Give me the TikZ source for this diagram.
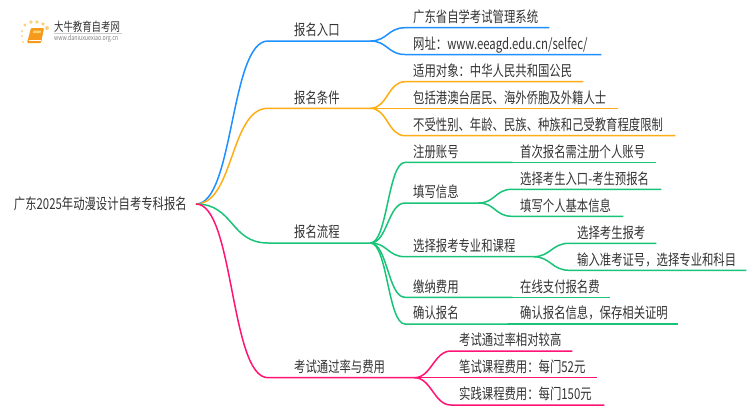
\documentclass[tikz,border=0pt]{standalone}
\usepackage{fontspec}
\setmainfont[FakeStretch=0.757]{Noto Sans CJK SC}
\definecolor{txtgray}{HTML}{333333}
\definecolor{brblue}{HTML}{1E90FF}
\definecolor{brorange}{HTML}{FFAD14}
\definecolor{brgreen}{HTML}{19C478}
\definecolor{brpink}{HTML}{FF1475}
\definecolor{dotorange}{HTML}{FBD27A}
\definecolor{bookorange}{HTML}{F59A1B}
\tikzset{
  topic/.style={anchor=south west,inner xsep=8pt,inner ysep=3pt,text height=13pt,text depth=2pt,
    align=left,text=txtgray,font=\fontsize{15pt}{15pt}\selectfont},
  main/.style={topic,inner xsep=26pt},
  branch/.style={line width=1.5pt}
}
\begin{document}
\begin{tikzpicture}[x=1pt,y=-1pt]
\useasboundingbox (0,0) rectangle (750,410);
\fill[white] (0,0) rectangle (750,410);
% logo
\foreach \x/\y/\r in {25/25/1.6,31/22/1.8,37/22/1.8,43/24/1.8,47/28/2,22/31/1.2,22/36/1,23/42/1} {
  \fill[dotorange] (\x,\y) circle (\r);
}
\fill[bookorange,rounded corners=1pt] (31,28) -- (44,28) -- (41,43) -- (27,43) -- cycle;
\draw[white,line width=.6pt] (29,40) -- (40.5,40);
\fill[dotorange] (33.5,30.5) -- (41,30.5) -- (40.5,33) -- (33,33) -- cycle;
\node[anchor=west,inner sep=0,text=txtgray,font=\fontsize{12.4pt}{13pt}\selectfont] (logoname) at (54,27) {大牛教育自考网};
\node[anchor=west,inner sep=0,text=gray,font=\fontsize{7pt}{8pt}\selectfont] (logosite) at (54,39) {www.daniuxuexiao.org.cn};
\draw[gray!40,line width=.5pt] (54,33.5) -- (122,33.5);
% root
\node[anchor=east,inner xsep=9pt,inner ysep=0,text height=10pt,text depth=0pt,text=txtgray,font=\fontsize{15pt}{15pt}\selectfont] (root) at (196,204) {广东2025年动漫设计自考专科报名};
% first level
\foreach \nm/\col/\y/\e/\lab in {
  entry/brblue/41/370/报名入口,
  cond/brorange/108.3/370/报名条件,
  flow/brgreen/243/370/报名流程,
  fee/brpink/377.7/414/考试通过率与费用} {
  \pgfmathsetmacro\w{\e-268-52}
  \node[main,text width=\w pt] (\nm) at (268,\y) {\lab};
  \draw[branch,\col] (root.east) .. controls +(38,0) and +(-38,0) .. (\nm.south west) -- (\nm.south east);
}
% second and third level
\foreach \nm/\src/\col/\x/\y/\e/\lab in {
  sys/entry/brblue/405/27.7/549/广东省自学考试管理系统,
  site/entry/brblue/405/54.5/601/{网址：www.eeagd.edu.cn/selfec/},
  who/cond/brorange/405/81.7/583/适用对象：中华人民共和国公民,
  area/cond/brorange/405/108.3/618/包括港澳台居民、海外侨胞及外籍人士,
  limit/cond/brorange/405/135.7/675/不受性别、年龄、民族、种族和己受教育程度限制,
  reg/flow/brgreen/405/162.4/512/注册账号,
  info/flow/brgreen/405/203/478/填写信息,
  pick/flow/brgreen/405/256.7/533/选择报考专业和课程,
  pay/flow/brgreen/405/297.3/512/缴纳费用,
  check/flow/brgreen/405/324/512/确认报名,
  regsub/reg/brgreen/512/162.4/656/首次报名需注册个人账号,
  infoa/info/brgreen/512/189.3/661/选择考生入口-考生预报名,
  infob/info/brgreen/512/216.3/623/填写个人基本信息,
  picka/pick/brgreen/569/243.3/656/选择考生报考,
  pickb/pick/brgreen/569/270.3/746/输入准考证号，选择专业和科目,
  paysub/pay/brgreen/512/297.3/610/在线支付报名费,
  checksub/check/brgreen/512/324/678/确认报名信息，保存相关证明,
  rate/fee/brpink/451/351/572/考试通过率相对较高,
  written/fee/brpink/451/377.7/597/笔试课程费用：每门52元,
  practice/fee/brpink/451/405/604/实践课程费用：每门150元} {
  \pgfmathsetmacro\w{\e-\x-16}
  \node[topic,text width=\w pt] (\nm) at (\x,\y) {\lab};
  \draw[branch,\col] (\src.south east) .. controls +(17,0) and +(-17,0) .. (\nm.south west) -- (\nm.south east);
}
\end{tikzpicture}
\end{document}
